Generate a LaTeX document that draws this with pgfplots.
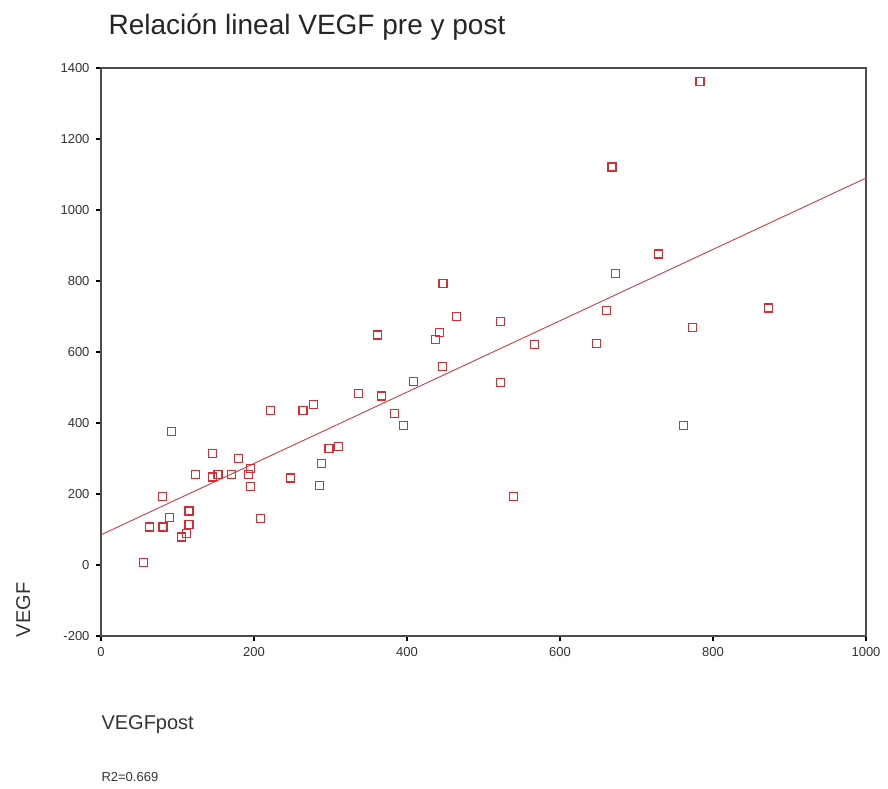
\documentclass[border=0pt]{standalone}
\usepackage{fontspec}
\setmainfont{Liberation Sans}
\usepackage{pgfplots}
\pgfplotsset{compat=1.18}
\definecolor{markred}{RGB}{215,45,50}
\definecolor{linered}{RGB}{205,60,65}
\begin{document}
\begin{tikzpicture}[x=1pt,y=1pt]
\path[use as bounding box] (0,0) rectangle (888,788);
\begin{axis}[
  at={(101pt,152pt)}, anchor=south west,
  width=765pt, height=568pt, scale only axis,
  xmin=0, xmax=1000, ymin=-200, ymax=1400,
  xtick={0,200,...,1000}, ytick={-200,0,...,1400},
  tick pos=left, tick align=outside,
  major tick length=5pt,
  axis line style={draw=black!70, line width=1.5pt},
  every tick/.style={black, line width=1.6pt},
  tick label style={font=\fontsize{13}{13}\selectfont, text=black!80},
  /pgf/number format/assume math mode=true,
  /pgf/number format/1000 sep={},
  yticklabel style={xshift=-3pt},
  xticklabel style={yshift=-3pt},
  clip=false,
]
\addplot[linered, line width=0.9pt] coordinates {(0,85) (1000,1090)};
\addplot[only marks, mark=square, mark size=4pt, mark options={draw=markred, line width=1.1pt}] table {
x y
783 1363
668 1121
672 820
729 876
872 724
661 718
773 670
648 625
762 392
567 620
539 192
522 685
522 513
447 792
465 699
442 656
437 634
446 558
408 518
361 648
367 476
337 482
384 428
395 394
311 335
298 327
288 285
286 223
278 451
264 434
222 434
248 245
92 375
146 315
180 299
124 254
146 248
153 254
171 256
193 254
196 273
195 220
209 132
80 192
89 135
115 152
115 115
63 107
81 107
112 90
105 79
56 6
};
\end{axis}
\node[anchor=base west, font=\fontsize{28}{28}\selectfont, text=black!85] at (105,753) {Relación lineal VEGF pre y post};
\node[anchor=base west, font=\fontsize{20}{20}\selectfont, text=black!80] at (98,59) {VEGFpost};
\node[anchor=base west, font=\fontsize{13}{13}\selectfont, text=black!80] at (98,7) {R2=0.669};
\node[rotate=90, anchor=base, font=\fontsize{20}{20}\selectfont, text=black!80] at (30,178) {VEGF};
\end{tikzpicture}
\end{document}
